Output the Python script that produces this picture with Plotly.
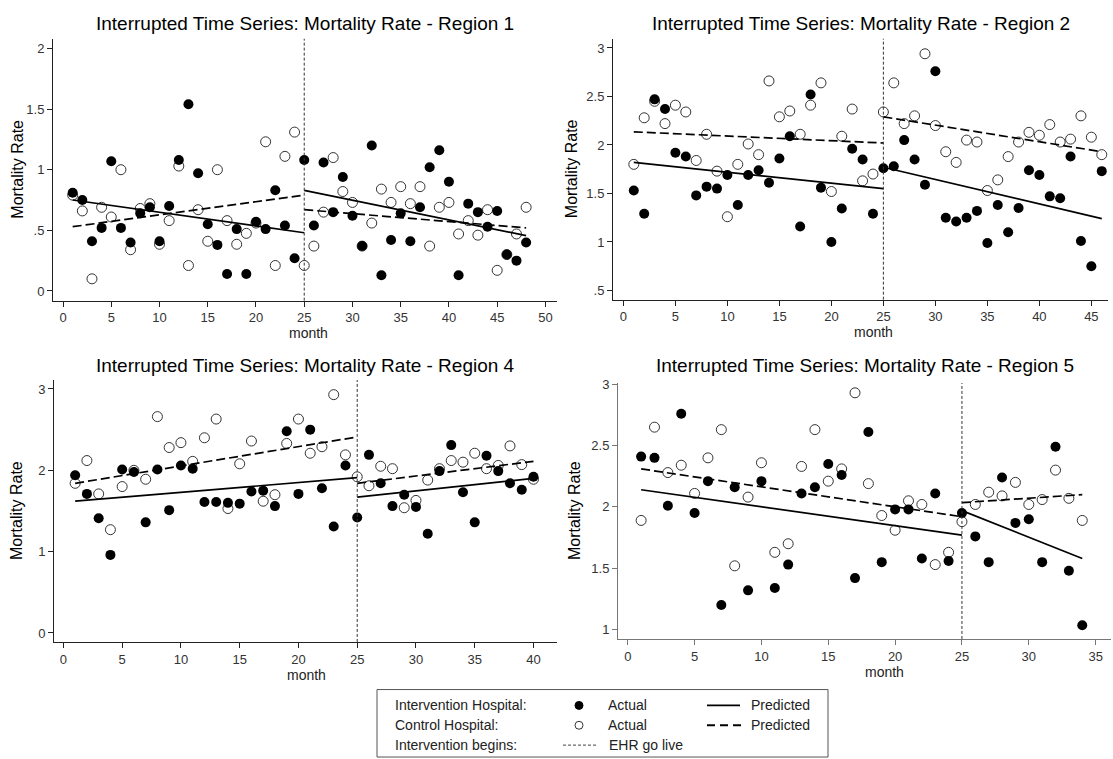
import plotly.graph_objects as go

W, H = 1113, 759
FONT = "Liberation Sans, Arial, sans-serif"

# ---------------- data ----------------
r1_months = list(range(1, 49))
r1_int = [0.81, 0.75, 0.41, 0.52, 1.07, 0.52, 0.40, 0.64, 0.69, 0.41,
          0.70, 1.08, 1.54, 0.97, 0.55, 0.38, 0.14, 0.51, 0.14, 0.57,
          0.51, 0.83, 0.54, 0.27, 1.08, 0.54, 1.06, 0.65, 0.94, 0.62,
          0.37, 1.20, 0.13, 0.42, 0.64, 0.41, 0.69, 1.02, 1.16, 0.90,
          0.13, 0.72, 0.65, 0.53, 0.66, 0.30, 0.25, 0.40]
r1_ctl = [0.79, 0.66, 0.10, 0.69, 0.61, 1.00, 0.34, 0.68, 0.72, 0.385,
          0.58, 1.03, 0.21, 0.67, 0.41, 1.00, 0.58, 0.385, 0.475, 0.56,
          1.23, 0.21, 1.11, 1.31, 0.21, 0.37, 0.65, 1.10, 0.82, 0.73,
          0.37, 0.56, 0.84, 0.73, 0.86, 0.72, 0.86, 0.37, 0.69, 0.73,
          0.47, 0.58, 0.46, 0.67, 0.17, 0.30, 0.47, 0.69]
r1_pred_months = [1, 25, 25, 48]
r1_int_pred = [0.75, 0.48, 0.83, 0.456]
r1_ctl_pred = [0.53, 0.79, 0.67, 0.52]

r2_months = list(range(1, 47))
r2_int = [1.53, 1.29, 2.47, 2.37, 1.92, 1.88, 1.48, 1.57, 1.55, 1.69,
          1.38, 1.69, 1.74, 1.61, 1.86, 2.09, 1.16, 2.52, 1.56, 1.00,
          1.345, 1.96, 1.85, 1.29, 1.76, 1.78, 2.05, 1.85, 1.59, 2.76,
          1.25, 1.21, 1.25, 1.32, 0.99, 1.38, 1.10, 1.35, 1.74, 1.69,
          1.47, 1.45, 1.88, 1.01, 0.75, 1.73]
r2_ctl = [1.80, 2.28, 2.45, 2.22, 2.41, 2.34, 1.84, 2.11, 1.73, 1.26,
          1.80, 2.01, 1.90, 2.66, 2.29, 2.35, 2.11, 2.41, 2.64, 1.52,
          2.09, 2.37, 1.63, 1.70, 2.34, 2.64, 2.22, 2.30, 2.94, 2.20,
          1.93, 1.82, 2.05, 2.03, 1.53, 1.64, 1.88, 2.03, 2.13, 2.10,
          2.21, 2.03, 2.06, 2.30, 2.08, 1.90]
r2_pred_months = [1, 25, 25, 46]
r2_int_pred = [1.82, 1.55, 1.77, 1.24]
r2_ctl_pred = [2.135, 2.02, 2.29, 1.93]

r4_months = list(range(1, 41))
r4_int = [1.94, 1.71, 1.41, 0.96, 2.01, 1.98, 1.36, 2.01, 1.51, 2.06,
          2.02, 1.61, 1.61, 1.60, 1.59, 1.74, 1.75, 1.56, 2.48, 1.71,
          2.50, 1.78, 1.31, 2.06, 1.42, 2.19, 1.84, 1.56, 1.70, 1.55,
          1.22, 1.99, 2.31, 1.73, 1.36, 2.18, 1.99, 1.84, 1.76, 1.92]
r4_ctl = [1.84, 2.12, 1.71, 1.27, 1.80, 2.00, 1.89, 2.66, 2.28, 2.34,
          2.11, 2.40, 2.63, 1.53, 2.08, 2.36, 1.62, 1.70, 2.33, 2.63,
          2.21, 2.29, 2.93, 2.19, 1.92, 1.81, 2.05, 2.02, 1.54, 1.63,
          1.88, 2.02, 2.12, 2.10, 2.21, 2.02, 2.06, 2.30, 2.07, 1.89]
r4_pred_months = [1, 25, 25, 40]
r4_int_pred = [1.62, 1.91, 1.67, 1.90]
r4_ctl_pred = [1.84, 2.41, 1.84, 2.11]

r5_months = list(range(1, 35))
r5_int = [2.41, 2.40, 2.01, 2.76, 1.95, 2.21, 1.20, 2.16, 1.32, 2.21,
          1.34, 1.53, 2.11, 2.16, 2.35, 2.26, 1.42, 2.61, 1.55, 1.98,
          1.98, 1.58, 2.11, 1.56, 1.95, 1.76, 1.55, 2.24, 1.87, 1.90,
          1.55, 2.49, 1.48, 1.035]
r5_ctl = [1.89, 2.65, 2.28, 2.34, 2.11, 2.40, 2.63, 1.52, 2.08, 2.36,
          1.63, 1.70, 2.33, 2.63, 2.21, 2.31, 2.93, 2.19, 1.93, 1.81,
          2.05, 2.02, 1.53, 1.63, 1.88, 2.02, 2.12, 2.09, 2.20, 2.02,
          2.06, 2.30, 2.07, 1.89]
r5_pred_months = [1, 25, 25, 34]
r5_int_pred = [2.14, 1.77, 1.97, 1.58]
r5_ctl_pred = [2.31, 1.92, 2.035, 2.10]

intervention_month = 25

titles = ["Interrupted Time Series: Mortality Rate - Region 1",
          "Interrupted Time Series: Mortality Rate - Region 2",
          "Interrupted Time Series: Mortality Rate - Region 4",
          "Interrupted Time Series: Mortality Rate - Region 5"]

r1_yticks = [0, 0.5, 1, 1.5, 2]
r1_ylabels = ["0", ".5", "1", "1.5", "2"]
r2_yticks = [0.5, 1, 1.5, 2, 2.5, 3]
r2_ylabels = [".5", "1", "1.5", "2", "2.5", "3"]
r4_yticks = [0, 1, 2, 3]
r4_ylabels = ["0", "1", "2", "3"]
r5_yticks = [1, 1.5, 2, 2.5, 3]
r5_ylabels = ["1", "1.5", "2", "2.5", "3"]
r1_xticks = list(range(0, 51, 5))
r2_xticks = list(range(0, 46, 5))
r4_xticks = list(range(0, 41, 5))
r5_xticks = list(range(0, 36, 5))

# ---------------- layout helpers ----------------
def fx(p):
    return p / W

def fy(p):
    return 1 - p / H

panels = [
    dict(months=r1_months, ia=r1_int, ca=r1_ctl, pm=r1_pred_months, ip=r1_int_pred, cp=r1_ctl_pred,
         xr=[-1.04, 51.2], yr=[-0.08, 2.08], xt=r1_xticks, yt=r1_yticks, yl=r1_ylabels,
         box=(53, 557, 33, 297), axcol="#222", ytx=18, tty=18, mx=308),
    dict(months=r2_months, ia=r2_int, ca=r2_ctl, pm=r2_pred_months, ip=r2_int_pred, cp=r2_ctl_pred,
         xr=[-1.0, 46.6], yr=[0.405, 3.095], xt=r2_xticks, yt=r2_yticks, yl=r2_ylabels,
         box=(613, 1108, 33, 296), axcol="#222", ytx=571, tty=18, mx=873),
    dict(months=r4_months, ia=r4_int, ca=r4_ctl, pm=r4_pred_months, ip=r4_int_pred, cp=r4_ctl_pred,
         xr=[-0.8, 42.0], yr=[-0.11, 3.11], xt=r4_xticks, yt=r4_yticks, yl=r4_ylabels,
         box=(54, 557, 377, 641), axcol="#222", ytx=17, tty=362, mx=306),
    dict(months=r5_months, ia=r5_int, ca=r5_ctl, pm=r5_pred_months, ip=r5_int_pred, cp=r5_ctl_pred,
         xr=[-0.73, 36.15], yr=[0.924, 3.01], xt=r5_xticks, yt=r5_yticks, yl=r5_ylabels,
         box=(618, 1111, 380, 638), axcol="#777", ytx=575, tty=362, mx=884),
]

fig = go.Figure()
annotations = []
shapes = []

for i, p in enumerate(panels):
    n = i + 1
    xa = "x" if n == 1 else f"x{n}"
    ya = "y" if n == 1 else f"y{n}"
    x0, x1, yt0, yb0 = p["box"]

    # control actual (hollow)
    fig.add_trace(go.Scatter(x=p["months"], y=p["ca"], mode="markers", xaxis=xa, yaxis=ya,
                             marker=dict(symbol="circle-open", size=10, color="#333",
                                         line=dict(width=1, color="#333")),
                             showlegend=False, hoverinfo="x+y"))
    # intervention actual (filled)
    fig.add_trace(go.Scatter(x=p["months"], y=p["ia"], mode="markers", xaxis=xa, yaxis=ya,
                             marker=dict(symbol="circle", size=10, color="black"),
                             showlegend=False, hoverinfo="x+y"))
    pm = p["pm"]
    xs = [pm[0], pm[1], None, pm[2], pm[3]]
    ip = p["ip"]
    cp = p["cp"]
    fig.add_trace(go.Scatter(x=xs, y=[ip[0], ip[1], None, ip[2], ip[3]], mode="lines",
                             xaxis=xa, yaxis=ya, line=dict(color="black", width=1.7),
                             showlegend=False, connectgaps=False))
    fig.add_trace(go.Scatter(x=xs, y=[cp[0], cp[1], None, cp[2], cp[3]], mode="lines",
                             xaxis=xa, yaxis=ya, line=dict(color="black", width=1.7, dash="9px,4px"),
                             showlegend=False, connectgaps=False))

    # vertical intervention line
    shapes.append(dict(type="line", xref=xa, yref=f"{ya} domain", x0=intervention_month,
                       x1=intervention_month, y0=0, y1=1,
                       line=dict(color="#333", width=1, dash="3px,2px")))

    axis_common = dict(showline=True, linewidth=1, linecolor=p["axcol"], ticks="outside",
                       ticklen=5, tickwidth=1, tickcolor=p["axcol"], showgrid=False,
                       zeroline=False, tickfont=dict(family=FONT, size=13, color="#333"))
    fig.update_layout(**{
        ("xaxis" if n == 1 else f"xaxis{n}"): dict(
            domain=[fx(x0), fx(x1)], range=p["xr"], tickvals=p["xt"], anchor=ya, **axis_common),
        ("yaxis" if n == 1 else f"yaxis{n}"): dict(
            domain=[fy(yb0), fy(yt0)], range=p["yr"], tickvals=p["yt"], ticktext=p["yl"],
            anchor=xa, **axis_common),
    })

    # panel title
    annotations.append(dict(text=titles[i], xref="paper", yref="paper", x=fx((x0 + x1) / 2),
                            y=fy(p["tty"]), showarrow=False, xanchor="center", yanchor="middle",
                            font=dict(family=FONT, size=19, color="black")))
    # y title
    annotations.append(dict(text="Mortality Rate", xref="paper", yref="paper", x=fx(p["ytx"]),
                            y=fy((yt0 + yb0) / 2), showarrow=False, textangle=-90,
                            xanchor="center", yanchor="middle",
                            font=dict(family=FONT, size=16, color="black")))
    # x title
    annotations.append(dict(text="month", xref="paper", yref="paper", x=fx(p["mx"]),
                            y=fy(yb0 + 33), showarrow=False, xanchor="center", yanchor="middle",
                            font=dict(family=FONT, size=14, color="#222")))

# ---------------- legend box ----------------
shapes.append(dict(type="rect", xref="paper", yref="paper", x0=fx(377), x1=fx(828),
                   y0=fy(757), y1=fy(689), line=dict(color="#555", width=1), fillcolor="white"))
rows = [705, 725, 745]
left_labels = ["Intervention Hospital:", "Control Hospital:", "Intervention begins:"]
for r, lab in zip(rows, left_labels):
    annotations.append(dict(text=lab, xref="paper", yref="paper", x=fx(393), y=fy(r),
                            showarrow=False, xanchor="left", yanchor="middle",
                            font=dict(family=FONT, size=14, color="#222")))
for r in rows[:2]:
    annotations.append(dict(text="Actual", xref="paper", yref="paper", x=fx(606), y=fy(r),
                            showarrow=False, xanchor="left", yanchor="middle",
                            font=dict(family=FONT, size=14, color="#222")))
    annotations.append(dict(text="Predicted", xref="paper", yref="paper", x=fx(749), y=fy(r),
                            showarrow=False, xanchor="left", yanchor="middle",
                            font=dict(family=FONT, size=14, color="#222")))
annotations.append(dict(text="EHR go live", xref="paper", yref="paper", x=fx(607), y=fy(745),
                        showarrow=False, xanchor="left", yanchor="middle",
                        font=dict(family=FONT, size=14, color="#222")))
# legend glyphs
shapes.append(dict(type="circle", xref="paper", yref="paper", x0=fx(575), x1=fx(583),
                   y0=fy(709), y1=fy(701), fillcolor="black", line=dict(color="black", width=1)))
shapes.append(dict(type="circle", xref="paper", yref="paper", x0=fx(575), x1=fx(583),
                   y0=fy(729), y1=fy(721), fillcolor="rgba(0,0,0,0)", line=dict(color="#333", width=1)))
shapes.append(dict(type="line", xref="paper", yref="paper", x0=fx(707), x1=fx(740),
                   y0=fy(705), y1=fy(705), line=dict(color="black", width=1.8)))
shapes.append(dict(type="line", xref="paper", yref="paper", x0=fx(707), x1=fx(741),
                   y0=fy(725), y1=fy(725), line=dict(color="black", width=1.8, dash="8px,5px")))
shapes.append(dict(type="line", xref="paper", yref="paper", x0=fx(563), x1=fx(597),
                   y0=fy(745), y1=fy(745), line=dict(color="#444", width=1, dash="3px,2px")))

fig.update_layout(width=W, height=H, margin=dict(l=0, r=0, t=0, b=0),
                  paper_bgcolor="white", plot_bgcolor="white",
                  annotations=annotations, shapes=shapes, showlegend=False,
                  font=dict(family=FONT))

fig.write_html("out.html")
